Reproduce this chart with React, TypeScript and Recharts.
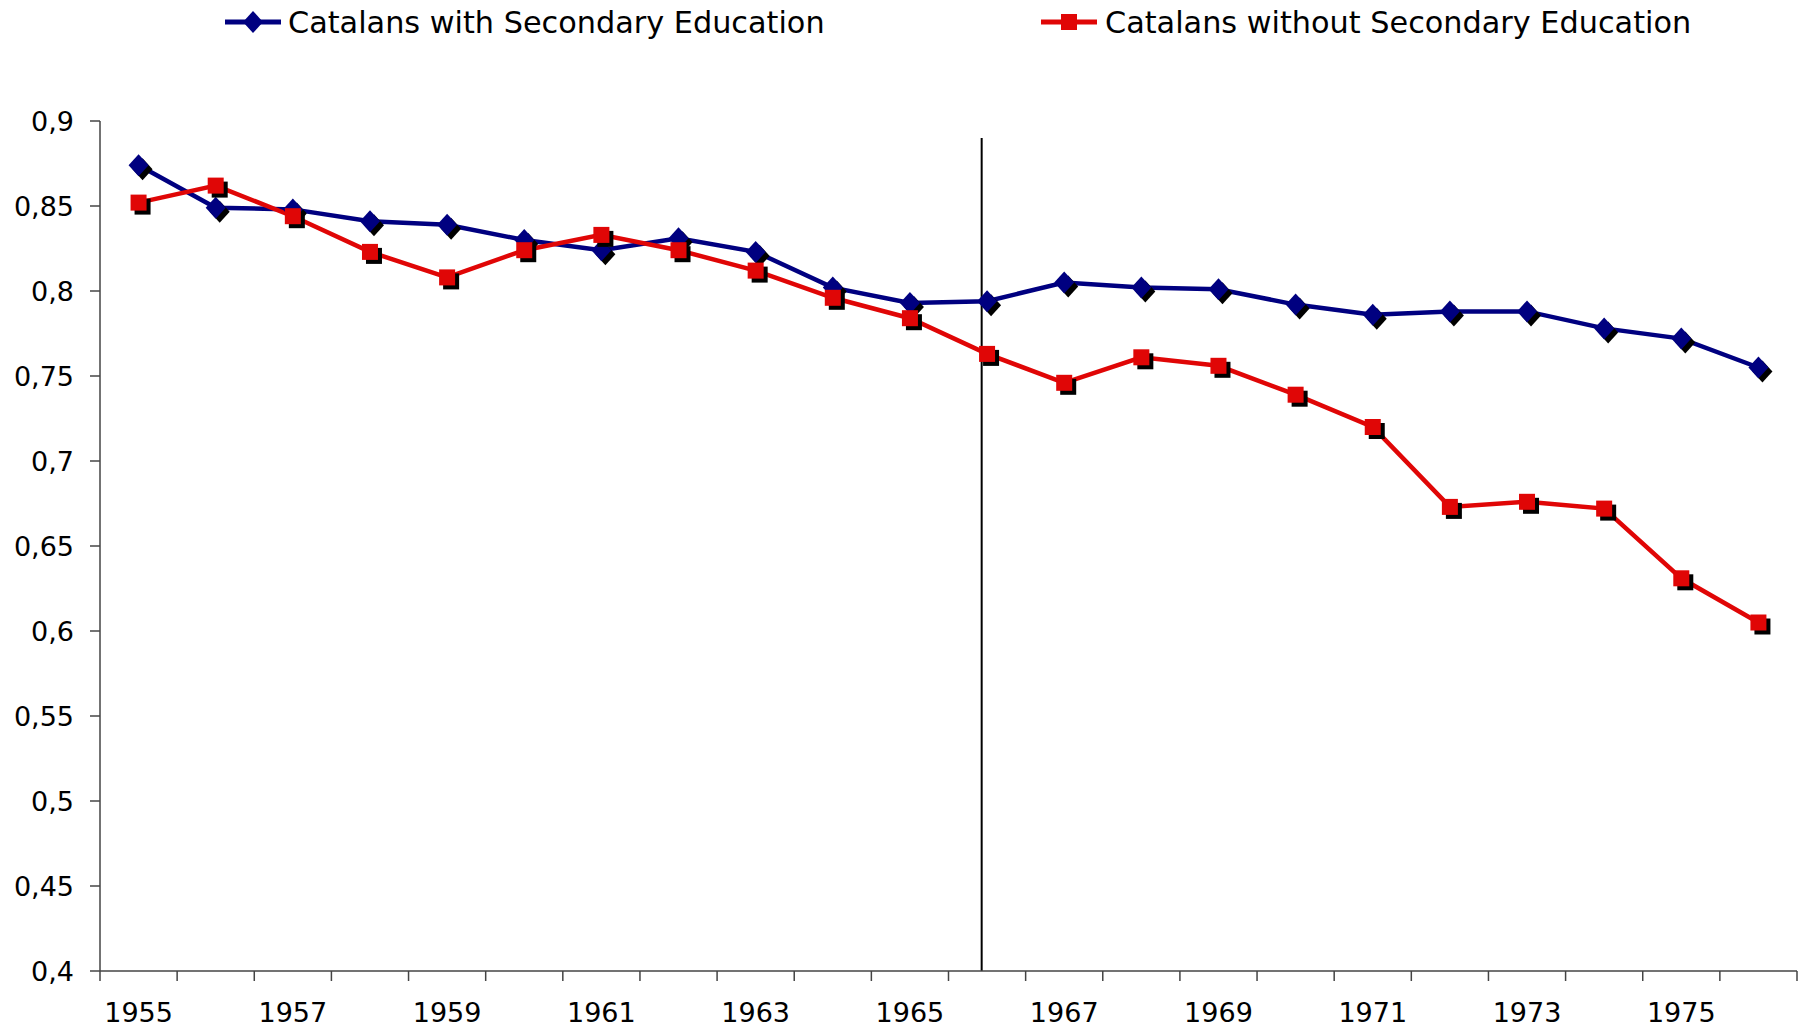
import React from 'react'
import { LineChart, Line, XAxis, YAxis, ReferenceLine } from 'recharts'

const years = [
  1955, 1956, 1957, 1958, 1959, 1960, 1961, 1962, 1963, 1964, 1965,
  1966, 1967, 1968, 1969, 1970, 1971, 1972, 1973, 1974, 1975, 1976,
]
const withSecondary = [
  0.874, 0.849, 0.848, 0.841, 0.839, 0.83, 0.824, 0.831, 0.823, 0.802, 0.793,
  0.794, 0.805, 0.802, 0.801, 0.792, 0.786, 0.788, 0.788, 0.778, 0.772, 0.755,
]
const withoutSecondary = [
  0.852, 0.862, 0.844, 0.823, 0.808, 0.824, 0.833, 0.824, 0.812, 0.796, 0.784,
  0.763, 0.746, 0.761, 0.756, 0.739, 0.72, 0.673, 0.676, 0.672, 0.631, 0.605,
]
const seriesNames = ['Catalans with Secondary Education', 'Catalans without Secondary Education']
const yTicks = [0.4, 0.45, 0.5, 0.55, 0.6, 0.65, 0.7, 0.75, 0.8, 0.85, 0.9]
const labelYears = [1955, 1957, 1959, 1961, 1963, 1965, 1967, 1969, 1971, 1973, 1975]
const breakYear = 1965.93

const NAVY = '#000080'
const RED = '#e00606'
const FONT = '"DejaVu Sans", Verdana, sans-serif'

const rows = years.map((year, i) => ({
  year,
  withSec: withSecondary[i],
  withoutSec: withoutSecondary[i],
}))

// tick marks sit on the category boundaries, labels on every other year
const boundaries = [...years.map((y) => y - 0.5), years[years.length - 1] + 0.5]
const xTicks = [...boundaries, ...labelYears].sort((a, b) => a - b)

const diamond = (x: number, y: number) =>
  `M${x},${y - 11} L${x + 10},${y} L${x},${y + 11} L${x - 10},${y} Z`

const DiamondDot = (props: any) => {
  const { cx, cy, index } = props
  if (cx == null || cy == null) return <g key={index} />
  return (
    <g key={index}>
      <path d={diamond(cx + 4, cy + 4)} fill="#000" />
      <path d={diamond(cx, cy)} fill={NAVY} />
    </g>
  )
}

const SquareDot = (props: any) => {
  const { cx, cy, index } = props
  if (cx == null || cy == null) return <g key={index} />
  return (
    <g key={index}>
      <rect x={cx - 8 + 4} y={cy - 8 + 4} width={16} height={16} fill="#000" />
      <rect x={cx - 8} y={cy - 8} width={16} height={16} fill={RED} />
    </g>
  )
}

const XTick = (props: any) => {
  const { x, y, payload } = props
  const v = payload.value
  if (Number.isInteger(v)) {
    return (
      <text x={x} y={y + 51} textAnchor="middle" fontSize={27} fontFamily={FONT} fill="#000">
        {v}
      </text>
    )
  }
  return <line x1={x} y1={y} x2={x} y2={y + 10} stroke="#444" strokeWidth={1.5} />
}

function Legend() {
  return (
    <svg width={1809} height={50} style={{ position: 'absolute', left: 0, top: 0 }}>
      <g>
        <line x1={225} y1={22} x2={281} y2={22} stroke={NAVY} strokeWidth={5} />
        <path d={diamond(253, 22)} fill={NAVY} />
        <text x={288} y={33} fontSize={30.3} fontFamily={FONT} fill="#000">
          {seriesNames[0]}
        </text>
      </g>
      <g>
        <line x1={1041} y1={22} x2={1097} y2={22} stroke={RED} strokeWidth={5} />
        <rect x={1061} y={14} width={16} height={16} fill={RED} />
        <text x={1105} y={33} fontSize={30.3} fontFamily={FONT} fill="#000">
          {seriesNames[1]}
        </text>
      </g>
    </svg>
  )
}

export default function App() {
  return (
    <div style={{ position: 'absolute', left: 0, top: 0, width: 1809, height: 1030, background: '#fff' }}>
      <LineChart width={1809} height={1030} data={rows} margin={{ top: 121, right: 12, bottom: 0, left: 0 }}>
        <XAxis
          dataKey="year"
          type="number"
          domain={[1954.5, 1976.5]}
          ticks={xTicks}
          interval={0}
          height={59}
          tickLine={false}
          tickSize={0}
          tickMargin={0}
          tick={<XTick />}
          axisLine={{ stroke: '#444', strokeWidth: 1.5 }}
        />
        <YAxis
          width={100}
          domain={[0.4, 0.9]}
          ticks={yTicks}
          interval={0}
          tickSize={10}
          tickMargin={16}
          tickFormatter={(v: number) => String(v).replace('.', ',')}
          tick={{ fontSize: 27, fontFamily: FONT, fill: '#000' }}
          tickLine={{ stroke: '#444', strokeWidth: 1.5 }}
          axisLine={{ stroke: '#444', strokeWidth: 1.5 }}
        />
        <ReferenceLine
          segment={[
            { x: breakYear, y: 0.89 },
            { x: breakYear, y: 0.4 },
          ]}
          stroke="#000"
          strokeWidth={2}
        />
        <Line
          dataKey="withSec"
          stroke={NAVY}
          strokeWidth={4.5}
          dot={DiamondDot}
          activeDot={false}
          isAnimationActive={false}
        />
        <Line
          dataKey="withoutSec"
          stroke={RED}
          strokeWidth={4.5}
          dot={SquareDot}
          activeDot={false}
          isAnimationActive={false}
        />
      </LineChart>
      <Legend />
    </div>
  )
}
